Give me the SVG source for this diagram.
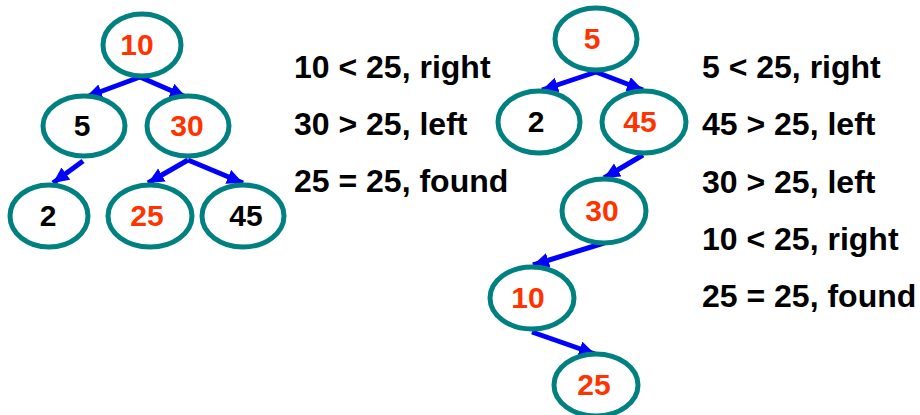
<svg xmlns="http://www.w3.org/2000/svg" width="920" height="415" viewBox="0 0 920 415">
<defs>
<marker id="ah" markerUnits="userSpaceOnUse" markerWidth="18" markerHeight="16" refX="16" refY="7.5" orient="auto">
<path d="M0,0 L16,7.5 L0,15 z" fill="#0000FF"/>
</marker>
<style>
.n{fill:#fff;stroke:#008080;stroke-width:5}
.t{font-family:"Liberation Sans",Arial,sans-serif;font-weight:bold;font-size:30px;text-anchor:middle}
.r{fill:#FF3300}
.k{fill:#000}
.e{stroke:#0000FF;stroke-width:5;fill:none;marker-end:url(#ah)}
.l{font-family:"Liberation Sans",Arial,sans-serif;font-weight:bold;font-size:32px;fill:#000}
</style>
</defs>
<rect width="920" height="415" fill="#fff"/>
<g id="connectors">
<line class="e" x1="140" y1="77" x2="86" y2="97"/>
<line class="e" x1="140" y1="77" x2="186" y2="97"/>
<line class="e" x1="83" y1="161" x2="53" y2="183"/>
<line class="e" x1="188" y1="160" x2="148" y2="183"/>
<line class="e" x1="188" y1="160" x2="243" y2="183"/>
<line class="e" x1="596" y1="72" x2="542" y2="90"/>
<line class="e" x1="596" y1="72" x2="643" y2="90"/>
<line class="e" x1="643" y1="155" x2="604" y2="178"/>
<line class="e" x1="604" y1="243" x2="533" y2="265"/>
<line class="e" x1="532" y1="332" x2="595" y2="354"/>
</g>
<g id="L10"><ellipse class="n" cx="142" cy="45" rx="39" ry="31"/><text class="t r" x="137" y="55">10</text></g>
<g id="L5"><ellipse class="n" cx="84" cy="126" rx="41" ry="30"/><text class="t k" x="82" y="136">5</text></g>
<g id="L30"><ellipse class="n" cx="188" cy="126" rx="41" ry="30"/><text class="t r" x="187" y="136">30</text></g>
<g id="L2"><ellipse class="n" cx="49" cy="216" rx="39" ry="31"/><text class="t k" x="48" y="226">2</text></g>
<g id="L25"><ellipse class="n" cx="150" cy="216" rx="42" ry="31"/><text class="t r" x="147" y="226">25</text></g>
<g id="L45"><ellipse class="n" cx="243" cy="216" rx="41" ry="31"/><text class="t k" x="246" y="226">45</text></g>
<g id="R5"><ellipse class="n" cx="596" cy="39" rx="41" ry="31"/><text class="t r" x="592" y="49">5</text></g>
<g id="R2"><ellipse class="n" cx="539" cy="122" rx="41" ry="31"/><text class="t k" x="536" y="132">2</text></g>
<g id="R45"><ellipse class="n" cx="644" cy="122" rx="42" ry="31"/><text class="t r" x="640" y="132">45</text></g>
<g id="R30"><ellipse class="n" cx="604" cy="211" rx="42" ry="32"/><text class="t r" x="602" y="221">30</text></g>
<g id="R10"><ellipse class="n" cx="532" cy="298" rx="42" ry="31"/><text class="t r" x="528" y="308">10</text></g>
<g id="R25"><ellipse class="n" cx="596" cy="385" rx="42" ry="31"/><text class="t r" x="594" y="395">25</text></g>
<g id="labels">
<text class="l" x="294" y="78">10 &lt; 25, right</text>
<text class="l" x="294" y="135">30 &gt; 25, left</text>
<text class="l" x="294" y="192">25 = 25, found</text>
<text class="l" x="702" y="78">5 &lt; 25, right</text>
<text class="l" x="702" y="135">45 &gt; 25, left</text>
<text class="l" x="702" y="193">30 &gt; 25, left</text>
<text class="l" x="702" y="250">10 &lt; 25, right</text>
<text class="l" x="702" y="307">25 = 25, found</text>
</g>
</svg>
